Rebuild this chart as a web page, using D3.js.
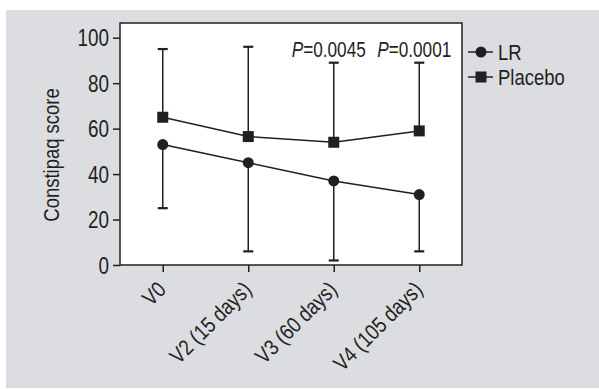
<!DOCTYPE html>
<html>
<head>
<meta charset="utf-8">
<script src="https://cdn.jsdelivr.net/npm/d3@7/dist/d3.min.js"></script>
<style>
  body { margin: 0; background: #fff; }
  text { font-family: "Liberation Sans", Arial, sans-serif; fill: #231f20; }
</style>
</head>
<body>
<svg id="chart" width="599" height="389"></svg>
<script>
// visits on the x axis
const visits = ["V0", "V2 (15 days)", "V3 (60 days)", "V4 (105 days)"]
// mean scores
const lrMean = [53, 45, 37, 31]
const placeboMean = [65, 56.5, 54, 59]
// error bar ends (LR goes down, placebo goes up)
const lrLow = [25, 6, 2, 6]
const placeboHigh = [95, 96, 89, 89]
// p value labels, by visit
const pLabels = [null, null, "0.0045", "0.0001"]
const yTicks = [0, 20, 40, 60, 80, 100]

const ink = "#231f20"
const narrow = 0.84 // no narrow font installed, squeeze the regular one
const svg = d3.select("#chart")

// grey panel behind everything
svg.append("rect")
  .attr("x", 6).attr("y", 10)
  .attr("width", 593).attr("height", 378)
  .attr("fill", "#dcdde0")

const plot = { left: 120, top: 23, right: 462, bottom: 265 }

svg.append("rect")
  .attr("x", plot.left).attr("y", plot.top)
  .attr("width", plot.right - plot.left).attr("height", plot.bottom - plot.top)
  .attr("fill", "#fff")
  .attr("stroke", ink).attr("stroke-width", 1.5)

const x = d3.scalePoint().domain(visits).range([plot.left, plot.right]).padding(0.5)
const y = d3.scaleLinear().domain([0, 100]).range([plot.bottom, 37.7])

// y axis
const yAxis = svg.append("g")
  .attr("transform", "translate(" + plot.left + ",0)")
  .call(d3.axisLeft(y).tickValues(yTicks).tickSize(7).tickPadding(4).tickSizeOuter(0))
yAxis.select(".domain").remove()
yAxis.selectAll("line").attr("stroke", ink).attr("stroke-width", 1.5)
yAxis.selectAll("text")
  .style("font-size", "23px").attr("fill", ink)
  .attr("x", 0).attr("dy", "0.36em")
  .attr("transform", "translate(-11,0) scale(0.82,1)")

// x axis
const xAxis = svg.append("g")
  .attr("transform", "translate(0," + plot.bottom + ")")
  .call(d3.axisBottom(x).tickSize(7).tickSizeOuter(0))
xAxis.select(".domain").remove()
xAxis.selectAll("line").attr("stroke", ink).attr("stroke-width", 1.5)
xAxis.selectAll("text")
  .style("font-size", "22px").attr("fill", ink)
  .attr("text-anchor", "end")
  .attr("y", 0).attr("dy", 0)
  .attr("transform", "translate(4,26) rotate(-45) scale(" + narrow + ",1)")

// axis title
svg.append("text")
  .attr("transform", "translate(59,155) rotate(-90) scale(" + narrow + ",1)")
  .attr("text-anchor", "middle")
  .style("font-size", "22px")
  .text("Constipaq score")

const capW = 5

function errorBars(mean, end) {
  const g = svg.append("g").attr("stroke", ink).attr("stroke-width", 1.5)
  visits.forEach((v, i) => {
    g.append("line")
      .attr("x1", x(v)).attr("x2", x(v))
      .attr("y1", y(mean[i])).attr("y2", y(end[i]))
    g.append("line")
      .attr("x1", x(v) - capW).attr("x2", x(v) + capW)
      .attr("y1", y(end[i])).attr("y2", y(end[i]))
      .attr("stroke-width", 2.2)
  })
}
errorBars(placeboMean, placeboHigh)
errorBars(lrMean, lrLow)

const line = d3.line().x((d, i) => x(visits[i])).y(d => y(d))

svg.append("path").datum(placeboMean)
  .attr("d", line).attr("fill", "none").attr("stroke", ink).attr("stroke-width", 1.5)
svg.append("path").datum(lrMean)
  .attr("d", line).attr("fill", "none").attr("stroke", ink).attr("stroke-width", 1.5)

svg.selectAll(".sq").data(placeboMean).enter().append("rect")
  .attr("x", (d, i) => x(visits[i]) - 5.5)
  .attr("y", d => y(d) - 5.5)
  .attr("width", 11).attr("height", 11)
  .attr("fill", ink)

svg.selectAll(".dot").data(lrMean).enter().append("circle")
  .attr("cx", (d, i) => x(visits[i]))
  .attr("cy", d => y(d))
  .attr("r", 5.5)
  .attr("fill", ink)

// p values above the bars
visits.forEach((v, i) => {
  if (!pLabels[i]) return
  const t = svg.append("text")
    .attr("transform", "translate(" + (x(v) - 5) + ",57) scale(0.8,1)")
    .attr("text-anchor", "middle")
    .style("font-size", "21.5px")
  t.append("tspan").style("font-style", "italic").text("P")
  t.append("tspan").text("=" + pLabels[i])
})

// legend
const legend = [{ name: "LR", shape: "circle" }, { name: "Placebo", shape: "square" }]
legend.forEach((d, i) => {
  const ly = 52 + i * 25
  const g = svg.append("g")
  g.append("line").attr("x1", 468).attr("x2", 493).attr("y1", ly).attr("y2", ly)
    .attr("stroke", ink).attr("stroke-width", 1.5)
  if (d.shape == "circle") {
    g.append("circle").attr("cx", 481).attr("cy", ly).attr("r", 5.5).attr("fill", ink)
  } else {
    g.append("rect").attr("x", 475.5).attr("y", ly - 5.5).attr("width", 11).attr("height", 11).attr("fill", ink)
  }
  g.append("text")
    .attr("transform", "translate(498," + ly + ") scale(" + narrow + ",1)")
    .attr("dy", "0.36em")
    .style("font-size", "22px").text(d.name)
})
</script>
</body>
</html>
